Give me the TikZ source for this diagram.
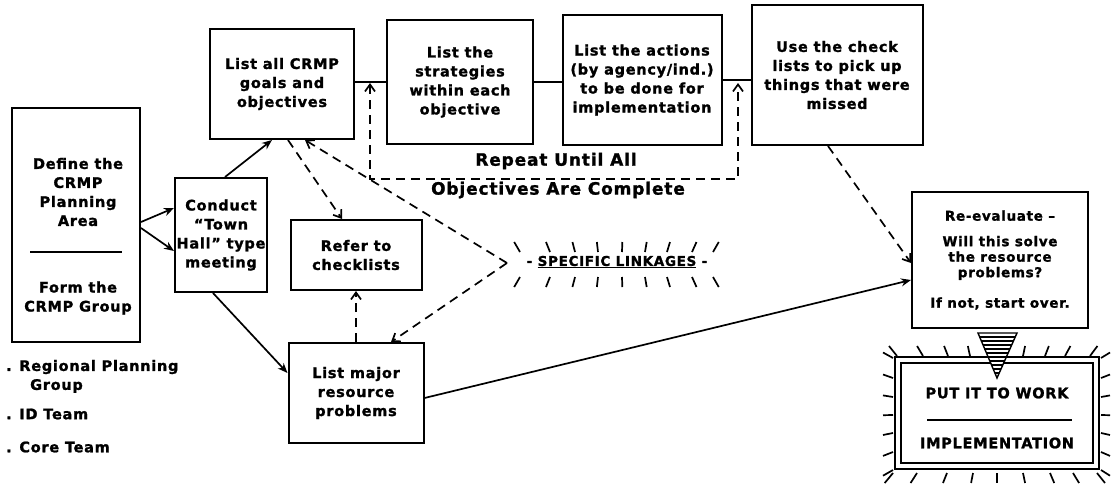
\documentclass[tikz,border=0pt]{standalone}
\usepackage{fontspec}
\setmainfont{DejaVu Sans}[LetterSpace=5, BoldFeatures={FakeBold=1.4}]
\usetikzlibrary{arrows.meta,calc}

\tikzset{
  lbl/.style={font=\bfseries\fontsize{14.5}{19}\selectfont, align=center, inner sep=0pt},
  box/.style={lbl, draw, line width=2pt},
  flow/.style={line width=1.7pt, -{Stealth[length=10pt,width=8pt]}},
  link/.style={line width=1.7pt, dash pattern=on 9pt off 6pt},
  tick/.style={line width=1.7pt},
  >={Straight Barb[length=7pt,width=10pt,line width=1.7pt]}
}

\begin{document}
\begin{tikzpicture}[x=1pt, y=-1pt]
  \useasboundingbox (0,0) rectangle (1111,488);

  % boxes
  \node[box, minimum width=128, minimum height=234] (define) at (76,225) {};
  \node[box, minimum width=92, minimum height=114] (conduct) at (221,235) {Conduct\\``Town\\Hall'' type\\meeting};
  \node[box, minimum width=144, minimum height=110] (listall) at (282,84) {List all CRMP\\goals and\\objectives};
  \node[box, minimum width=146, minimum height=124] (strat) at (460,82) {List the\\strategies\\within each\\objective};
  \node[box, minimum width=159, minimum height=130] (actions) at (642,80) {List the actions\\(by agency/ind.)\\to be done for\\implementation};
  \node[box, minimum width=171, minimum height=140] (usecheck) at (837,75) {Use the check\\lists to pick up\\things that were\\missed};
  \node[box, minimum width=131, minimum height=70] (refer) at (356,255) {Refer to\\checklists};
  \node[box, minimum width=135, minimum height=100] (listmajor) at (356,393) {List major\\resource\\problems};
  \node[box, minimum width=176, minimum height=136, font=\bfseries\fontsize{13.5}{15.5}\selectfont] (reeval) at (1000,260)
    {Re-evaluate --\\[10pt]Will this solve\\the resource\\problems?\\[15pt]If not, start over.};
  \node[box, minimum width=198, minimum height=106, double, double distance=4.5pt, line width=1.6pt] (putwork) at (997,413) {};

  % texts of the left box
  \node[lbl] (defineA) at (78,192) {Define the\\CRMP\\Planning\\Area};
  \draw[line width=1.7pt] (30,252) -- (122,252);
  \node[lbl] (defineB) at (78,298) {Form the\\CRMP Group};

  \node[lbl, anchor=west] (grpA) at (6,367) {. Regional Planning};
  \node[lbl, anchor=west] (grpB) at (30,386) {Group};
  \node[lbl, anchor=west] (grpC) at (6,414) {. ID Team};
  \node[lbl, anchor=west] (grpD) at (6,447) {. Core Team};

  % put it to work
  \node[lbl] (putA) at (997,393) {PUT IT TO WORK};
  \draw[line width=1.7pt] (927,420) -- (1072,420);
  \node[lbl] (putB) at (997,443) {IMPLEMENTATION};
  \foreach \x in {897,923,948,970,1023,1045,1065,1090}
    \draw[tick] (\x,356) -- ({\x+(\x-997)*0.08},346);
  \foreach \x in {893,917,947,973,997,1023,1050,1073,1097}
    \draw[tick] (\x,473) -- ({\x+(\x-997)*0.08},483);
  \foreach \y in {358,378,397,415,433,452,470} {
    \draw[tick] (893,\y) -- (883,{\y+(\y-413)*0.1});
    \draw[tick] (1101,\y) -- (1110,{\y+(\y-413)*0.1});
  }
  \fill[white] (978,333) -- (1017,333) -- (997,378) -- cycle;
  \draw[line width=1.4pt] (978,333) -- (1017,333) -- (997,378) -- cycle;
  \foreach \y in {337,341,...,373}
    \draw[line width=1.5pt] ({997-19.5*(378-\y)/45},\y) -- ({997+19.5*(378-\y)/45},\y);

  % specific linkages
  \node[lbl, font=\bfseries\fontsize{13.5}{15}\selectfont] (links) at (617,262) {- \underline{SPECIFIC LINKAGES} -};
  \coordinate (apex) at (507,263);
  \foreach \x in {520,550,575,598,622,645,667,692,713} {
    \draw[tick] (\x,252) -- ({\x+(\x-617)*0.06},242);
    \draw[tick] (\x,277) -- ({\x+(\x-617)*0.06},287);
  }

  % repeat loop
  \coordinate (loopL) at (370,83);
  \coordinate (loopR) at (738,83);
  \draw[link, <->] (loopL) -- (370,179) -- (738,179) -- (loopR);
  \node[lbl, font=\bfseries\fontsize{17}{20}\selectfont] (rptA) at (556,161) {Repeat Until All};
  \node[lbl, font=\bfseries\fontsize{17}{20}\selectfont] (rptB) at (558,190) {Objectives Are Complete};

  % connectors
  \draw[line width=1.7pt] (listall.east |- strat.west) -- (strat.west);
  \draw[line width=1.7pt] (strat.east) -- (actions.west |- strat.east);
  \draw[line width=1.7pt] (actions.east) -- (usecheck.west |- actions.east);

  \draw[flow] ($(define.east)+(0,-3)$) -- ($(conduct.west)+(0,-27)$);
  \draw[flow] ($(define.east)+(0,3)$) -- ($(conduct.west)+(0,16)$);
  \draw[flow] ($(conduct.north)+(4,0)$) -- ($(listall.south)+(-10,0)$);
  \draw[flow] ($(conduct.south)+(-8,0)$) -- ($(listmajor.west)+(0,-20)$);
  \draw[flow] ($(listmajor.east)+(0,5)$) -- ($(reeval.west)+(0,20)$);

  \draw[link, ->] ($(listall.south)+(6,0)$) -- ($(refer.north)+(-14,0)$);
  \draw[link, ->] (apex) -- ($(listall.south)+(23,0)$);
  \draw[link, ->] (apex) -- ($(listmajor.north)+(35,0)$);
  \draw[link, ->] (listmajor.north) -- (refer.south);
  \draw[link, ->] ($(usecheck.south)+(-9,0)$) -- ($(reeval.west)+(0,3)$);
\end{tikzpicture}
\end{document}
